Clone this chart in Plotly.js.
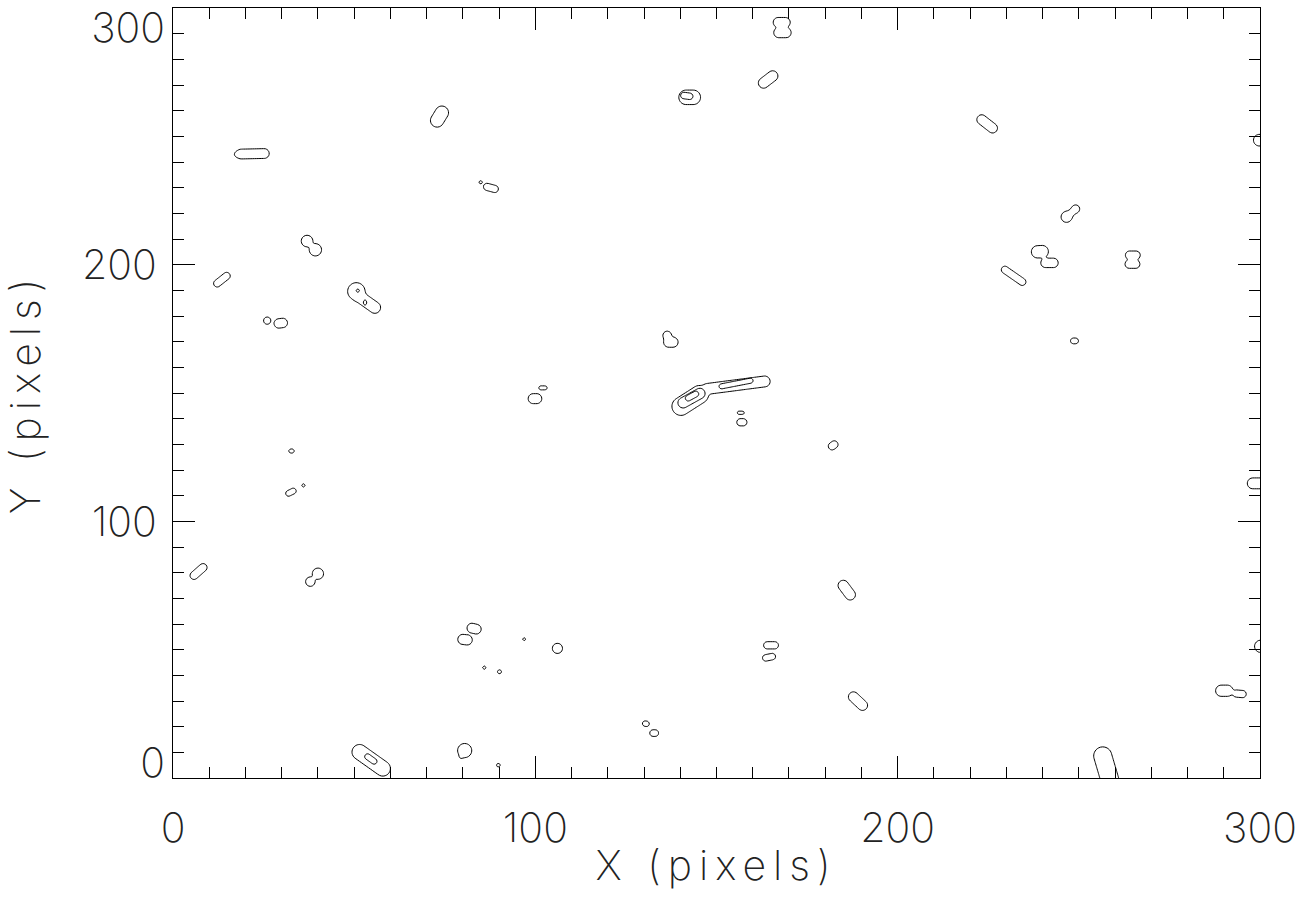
<!DOCTYPE html>
<html>
<head>
<meta charset="utf-8">
<script src="https://cdn.plot.ly/plotly-3.0.1.min.js"></script>
<style>
html,body{margin:0;padding:0;background:#fff;}
#chart{width:1302px;height:911px;}
.xtitle,.ytitle{letter-spacing:7px;}
</style>
</head>
<body>
<div id="chart"></div>
<script>
// Contour outlines, one capsule per row:
// [x1, y1, x2, y2, radius] in pixel-coordinate units (radius in X units)
const outerContours = [
  [18.8, 243.1, 25.2, 243.3, 1.35], [17.6, 243.0, 17.6, 243.0, 0.6],
  [74.2, 259.2, 72.9, 256.2, 1.85],
  [86.7, 230.3, 88.8, 229.5, 1.0], [84.9, 232.1, 84.9, 232.1, 0.45],
  [37.0, 209.2, 37.0, 209.2, 1.6], [39.3, 205.8, 39.3, 205.8, 1.7],
  [167.0, 294.4, 169.0, 294.4, 1.35], [167.2, 290.4, 169.2, 290.4, 1.4],
  [165.5, 273.5, 163.0, 270.8, 1.45],
  [141.6, 265.2, 143.6, 265.2, 2.0],
  [223.2, 256.5, 226.2, 253.2, 1.35],
  [299.8, 248.5, 302.0, 248.5, 1.6],
  [249.2, 221.8, 249.2, 221.8, 1.0], [246.6, 218.6, 246.6, 218.6, 1.5], [247.2, 219.3, 248.8, 221.3, 0.9],
  [238.6, 205.0, 239.9, 205.1, 1.7], [240.8, 200.7, 243.0, 200.7, 1.3],
  [264.0, 203.7, 265.8, 203.7, 1.15], [263.9, 200.2, 265.7, 200.2, 1.15],
  [229.6, 198.0, 234.4, 193.3, 1.0],
  [248.5, 170.3, 249.1, 170.3, 0.8],
  [298.0, 114.8, 302.0, 114.8, 1.5],
  [300.2, 51.3, 300.2, 51.3, 1.7],
  [289.3, 34.0, 291.0, 34.0, 1.55], [293.5, 32.9, 295.2, 32.7, 1.0],
  [256.6, 8.6, 258.6, -1.0, 2.5],
  [12.2, 192.7, 14.8, 195.6, 1.0],
  [50.6, 189.6, 50.6, 189.6, 2.4], [51.5, 187.5, 55.7, 183.3, 1.6],
  [26.0, 178.2, 26.0, 178.2, 1.0], [29.2, 177.1, 30.3, 177.3, 1.3],
  [32.5, 127.4, 32.9, 127.4, 0.55],
  [31.9, 110.9, 33.2, 111.8, 0.8], [36.0, 114.0, 36.0, 114.0, 0.45],
  [99.4, 147.8, 100.4, 147.8, 1.38], [101.5, 152.0, 102.7, 152.0, 0.55],
  [136.4, 172.4, 136.4, 172.4, 1.2], [136.8, 169.8, 138.0, 169.8, 1.4],
  [140.2, 144.8, 145.3, 149.4, 2.5], [147.5, 151.6, 163.3, 154.5, 1.5],
  [156.2, 142.3, 157.2, 142.3, 0.45], [156.6, 138.6, 157.4, 138.6, 1.0],
  [181.9, 129.3, 182.5, 129.9, 1.05],
  [5.8, 78.9, 8.3, 82.0, 1.1],
  [40.0, 79.6, 40.0, 79.6, 1.55], [37.9, 76.5, 37.9, 76.5, 1.3],
  [51.5, 10.1, 57.9, 3.7, 2.1],
  [82.5, 58.4, 83.7, 58.0, 1.35], [80.0, 54.0, 81.2, 53.8, 1.4],
  [85.9, 43.0, 85.9, 43.0, 0.45], [90.1, 41.4, 90.1, 41.4, 0.55], [96.9, 54.1, 96.9, 54.1, 0.4],
  [80.5, 10.7, 80.5, 10.7, 1.95], [79.5, 8.3, 79.5, 8.3, 0.4],
  [89.8, 5.0, 89.8, 5.0, 0.5],
  [106.1, 50.5, 106.1, 50.5, 1.4],
  [130.3, 21.2, 130.7, 21.1, 0.75], [132.5, 17.5, 133.1, 17.5, 0.92],
  [164.0, 51.7, 166.1, 51.7, 1.0], [163.6, 46.8, 165.4, 47.3, 0.9],
  [185.0, 75.0, 186.9, 71.4, 1.45],
  [187.8, 31.6, 190.3, 28.3, 1.4]
];
const secondContours = [
  [141.0, 265.9, 142.6, 265.6, 0.9],
  [51.0, 189.9, 51.0, 189.9, 0.45], [53.0, 185.6, 53.0, 184.9, 0.45],
  [140.8, 146.2, 145.4, 149.8, 1.45], [151.4, 152.6, 159.4, 154.8, 0.7],
  [53.7, 8.3, 55.5, 6.5, 0.8]
];
const thirdContours = [
  [142.2, 148.0, 144.3, 149.6, 0.8]
];
const xTickVals = [0, 100, 200, 300];
const xTickText = ['0', '100', '200', '300'];
const yMidTicks = [100, 200];
const yMidText = ['100', '200'];
const yLowTick = [0], yLowText = ['0'];
const yTopTick = [300], yTopText = ['300'];

const W = 1302, H = 911;
const M = {l: 173, r: 42, t: 8, b: 133};
const ASPECT = (H - M.t - M.b) / (W - M.l - M.r); // Y units -> X units on screen
const STEP = 0.5, K = 0.9;
const xs = [], ys = [];
for (let i = 0; i <= 600; i++) xs.push(i * STEP);
for (let j = 0; j <= 600; j++) ys.push(j * STEP);

function smin(a, b, k) {
  const h = Math.max(k - Math.abs(a - b), 0) / k;
  return Math.min(a, b) - h * h * k * 0.25;
}
function buildField(shapes) {
  const z = ys.map(() => new Float64Array(xs.length).fill(5));
  shapes.forEach(s => {
    const [x1, y1, x2, y2, r] = s;
    const ax = x1, ay = y1 * ASPECT, bx = x2, by = y2 * ASPECT;
    const vx = bx - ax, vy = by - ay, vv = vx * vx + vy * vy;
    const m = r + 3;
    const xmin = Math.min(x1, x2) - m, xmax = Math.max(x1, x2) + m;
    const ymin = Math.min(y1, y2) - m / ASPECT, ymax = Math.max(y1, y2) + m / ASPECT;
    for (let j = 0; j < ys.length; j++) {
      if (ys[j] < ymin || ys[j] > ymax) continue;
      const py = ys[j] * ASPECT;
      for (let i = 0; i < xs.length; i++) {
        if (xs[i] < xmin || xs[i] > xmax) continue;
        const px = xs[i];
        let t = vv > 0 ? ((px - ax) * vx + (py - ay) * vy) / vv : 0;
        t = Math.max(0, Math.min(1, t));
        const dx = px - (ax + t * vx), dy = py - (ay + t * vy);
        const d = Math.sqrt(dx * dx + dy * dy) - r;
        z[j][i] = smin(z[j][i], d, K);
      }
    }
  });
  return z.map(row => Array.from(row));
}

function contourTrace(shapes, yaxis) {
  return {
    type: 'contour', x: xs, y: ys, z: buildField(shapes), yaxis: yaxis,
    autocontour: false,
    contours: {coloring: 'none', start: 0, end: 0.5, size: 1, showlabels: false},
    line: {color: '#000', width: 1, smoothing: 1},
    showscale: false, hoverinfo: 'skip'
  };
}

const FONT = {family: 'Inter, "DejaVu Sans", sans-serif', size: 41, color: '#222', weight: 200};
const common = {
  range: [0, 300], showgrid: false, zeroline: false,
  ticks: 'inside', ticklen: 22, tickwidth: 1, tickcolor: '#000',
  showline: true, linecolor: '#000', linewidth: 1, mirror: 'ticks',
  minor: {tickmode: 'linear', tick0: 0, dtick: 10, ticks: 'inside', ticklen: 11, tickwidth: 1, tickcolor: '#000', showgrid: false},
  tickfont: FONT, fixedrange: true, ticklabeloverflow: 'allow'
};
const overlayY = {overlaying: 'y', range: [0, 300], side: 'left', showgrid: false, zeroline: false,
  showline: false, ticks: '', tickmode: 'array', tickfont: FONT, ticklabelstandoff: 7,
  fixedrange: true, ticklabeloverflow: 'allow'};
const layout = {
  width: W, height: H, margin: M,
  paper_bgcolor: '#fff', plot_bgcolor: '#fff', showlegend: false,
  xaxis: Object.assign({}, common, {
    tickmode: 'array', tickvals: xTickVals, ticktext: xTickText,
    ticklabelstandoff: 14,
    title: {text: 'X (pixels)', font: FONT, standoff: 0}
  }),
  yaxis: Object.assign({}, common, {
    tickmode: 'array', tickvals: yMidTicks, ticktext: yMidText,
    ticklabelstandoff: 7,
    title: {text: 'Y (pixels)', font: FONT, standoff: 40}
  }),
  yaxis2: Object.assign({}, overlayY, {tickvals: yLowTick, ticktext: yLowText, ticklabelshift: -15}),
  yaxis3: Object.assign({}, overlayY, {tickvals: yTopTick, ticktext: yTopText, ticklabelshift: 20})
};
Plotly.newPlot('chart', [
  contourTrace(outerContours, 'y'),
  contourTrace(secondContours, 'y2'),
  contourTrace(thirdContours, 'y3')
], layout, {staticPlot: true, displayModeBar: false});
</script>
</body>
</html>
